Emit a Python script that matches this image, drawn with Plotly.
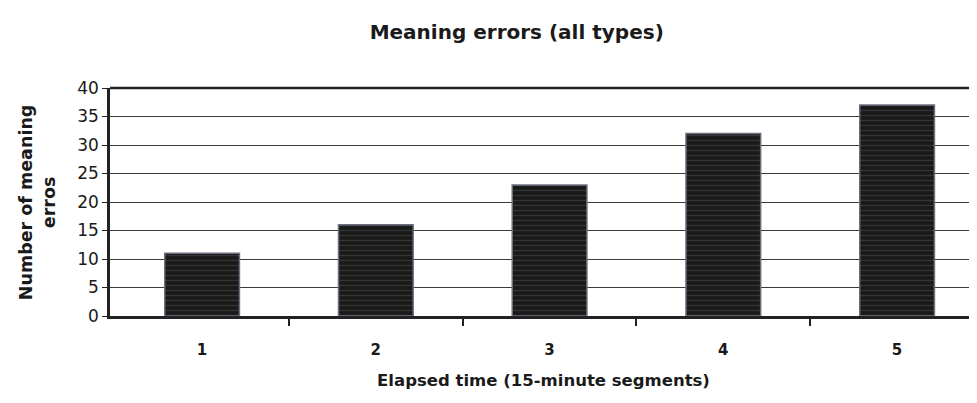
import plotly.graph_objects as go

categories = ["1", "2", "3", "4", "5"]
positions = [1, 2, 3, 4, 5]
values = [11, 16, 23, 32, 37]
y_ticks = [0, 5, 10, 15, 20, 25, 30, 35, 40]
boundaries = [1.5, 2.5, 3.5, 4.5]

FONT = "DejaVu Sans, Verdana, sans-serif"
INK = "#1a1a1a"

fig = go.Figure()
fig.add_trace(go.Bar(
    x=positions, y=values, width=0.43,
    marker=dict(
        color="#1a1a1a",
        line=dict(color="#6a7080", width=1.5),
        pattern=dict(shape="-", fgcolor="#505050", bgcolor="#1a1a1a", size=5, solidity=0.25),
    ),
    hoverinfo="x+y",
))

fig.update_layout(
    width=969, height=395,
    margin=dict(l=102, r=0, t=80, b=87),
    paper_bgcolor="white", plot_bgcolor="white",
    showlegend=False,
    font=dict(family=FONT, color=INK),
    title=dict(text="<b>Meaning errors (all types)</b>", x=0.525, xanchor="center",
               y=1 - 24 / 395, yanchor="middle", yref="container",
               font=dict(size=20, family=FONT, color=INK)),
)

fig.update_xaxes(
    range=[0.47, 5.46],
    tickvals=positions, ticktext=categories,
    ticks="", showgrid=False, zeroline=False,
    showline=True, linecolor="#222", linewidth=2.5,
    tickfont=dict(size=15, family=FONT, color=INK, weight="bold"),
    ticklabelstandoff=18,
    minor=dict(tickvals=boundaries, ticks="outside", ticklen=7, tickwidth=1.5, tickcolor="#222", showgrid=False),
    title=dict(text="<b>Elapsed time (15-minute segments)</b>", standoff=17,
               font=dict(size=16.5, family=FONT, color=INK)),
    automargin=False,
)

fig.update_yaxes(
    range=[0, 40], tickvals=y_ticks,
    showgrid=True, gridcolor="#3a3a3a", gridwidth=1,
    zeroline=False,
    showline=True, linecolor="#222", linewidth=2.5,
    ticks="outside", ticklen=5, tickcolor="#222",
    tickfont=dict(size=17, family=FONT, color=INK),
    automargin=False,
)

# top frame line
fig.add_shape(type="line", xref="x domain", yref="y domain", x0=0, x1=1, y0=1, y1=1,
              line=dict(color="#222", width=2.5))

fig.add_annotation(text="<b>Number of meaning<br>erros</b>", textangle=-90,
                   xref="paper", yref="paper", x=-0.084, y=0.5,
                   xanchor="center", yanchor="middle", showarrow=False,
                   font=dict(size=17.5, family=FONT, color=INK))

fig.write_html("out.html")
